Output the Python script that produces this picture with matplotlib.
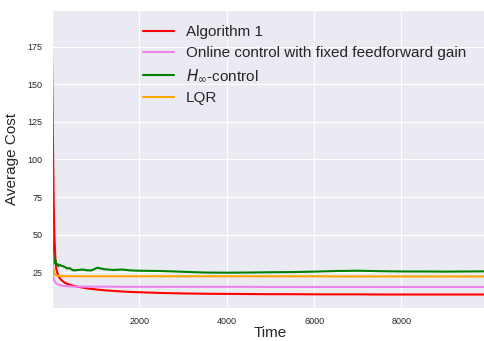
# Average cost over time for the four controllers
import numpy as np
import matplotlib
matplotlib.use("Agg")
import matplotlib.pyplot as plt
import seaborn as sns

sns.set_style("darkgrid")
plt.rcParams['font.family'] = ['Liberation Sans', 'DejaVu Sans']

# Time samples
time = [1, 10, 20, 30, 40, 50, 60, 80, 100, 125, 150, 175, 200, 250, 300, 350,
        400, 450, 500, 600, 700, 800, 900, 1000, 1050, 1100, 1200, 1400, 1600,
        1800, 2000, 2500, 3000, 3500, 4000, 4500, 5000, 5500, 6000, 6500, 7000,
        7500, 8000, 8500, 9000, 9500, 10000]

algorithm1 = [173, 150, 122, 97, 75, 58, 47, 34, 27, 24.5, 22.5, 21.2, 20.3, 19, 18,
              17.3, 16.8, 16.3, 15.9, 15.3, 14.8, 14.3, 13.9, 13.6, 13.4, 13.3, 13.0,
              12.6, 12.2, 11.9, 11.7, 11.2, 10.9, 10.7, 10.6, 10.5, 10.4, 10.4, 10.3,
              10.3, 10.3, 10.2, 10.2, 10.2, 10.2, 10.2, 10.2]

fixed_ff = [33, 28, 24.5, 22.5, 21, 20, 19.3, 18.3, 17.7, 17.2, 16.8, 16.5, 16.3, 16,
            15.8, 15.7, 15.6, 15.5, 15.5, 15.4, 15.4, 15.4, 15.4, 15.4, 15.4, 15.4,
            15.4, 15.4, 15.3, 15.3, 15.3, 15.3, 15.3, 15.3, 15.3, 15.3, 15.2, 15.2,
            15.2, 15.2, 15.2, 15.2, 15.2, 15.2, 15.2, 15.2, 15.2]

h_inf = [89, 62, 45, 37, 34, 32, 31, 33, 30, 30.5, 29, 30, 29.5, 29, 28.5, 27.5,
         27.8, 26.8, 26.2, 26.5, 26.8, 26.3, 26.2, 27.5, 28, 27.6, 27, 26.5, 26.8,
         26.2, 26, 25.8, 25.3, 24.8, 24.7, 24.8, 25, 25.1, 25.4, 25.8, 26, 25.7,
         25.5, 25.5, 25.4, 25.5, 25.6]

lqr = [42, 36, 31, 28, 26, 25, 24.3, 23.5, 23, 22.8, 22.6, 22.5, 22.5, 22.4, 22.4,
       22.4, 22.3, 22.3, 22.3, 22.3, 22.3, 22.3, 22.3, 22.3, 22.3, 22.3, 22.3, 22.3,
       22.3, 22.3, 22.3, 22.3, 22.3, 22.3, 22.3, 22.3, 22.3, 22.3, 22.3, 22.2, 22.2,
       22.2, 22.2, 22.2, 22.2, 22.2, 22.2]

fig = plt.figure(figsize=(4.85, 3.41), dpi=100)
ax = fig.add_axes([0.107, 0.098, 0.901, 0.873])

ax.plot(time, algorithm1, color='red', lw=1.5, label='Algorithm 1')
ax.plot(time, fixed_ff, color='violet', lw=1.5, label='Online control with fixed feedforward gain')
ax.plot(time, h_inf, color='green', lw=1.5, label=r'$H_\infty$-control')
ax.plot(time, lqr, color='orange', lw=1.5, label='LQR')

ax.set_xlim(0, 10000)
ax.set_ylim(1.5, 199.4)
ax.set_xticks([2000, 4000, 6000, 8000])
ax.set_yticks([25, 50, 75, 100, 125, 150, 175])
ax.tick_params(labelsize=6.5)

ax.set_xlabel('Time', fontsize=11, labelpad=0)
ax.set_ylabel('Average Cost', fontsize=11, labelpad=6)

ax.legend(loc='upper left', bbox_to_anchor=(0.178, 0.995), fontsize=11,
          frameon=False, labelspacing=0.48)

fig.savefig('out.png', dpi=100)
